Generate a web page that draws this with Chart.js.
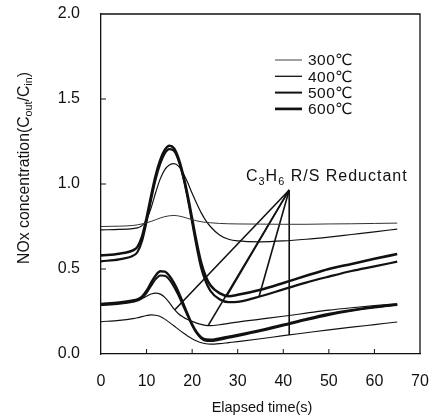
<!DOCTYPE html>
<html><head><meta charset="utf-8">
<title>NOx concentration vs elapsed time</title>
<script src="https://cdn.jsdelivr.net/npm/chart.js"></script>
<style>
    html, body { margin: 0; padding: 0; background: #fff; }
    #wrap { width: 436px; height: 418px; }
</style></head>
<body>
<div id="wrap"><canvas id="grafico" width="436" height="418"></canvas></div>
<script>
// --- DATA ---
const times = [0, 4, 7, 8, 9, 10, 11, 12, 13, 14, 15, 16, 17, 18, 19, 20, 21, 22, 23, 24, 26, 28, 30, 35, 40, 45, 50, 55, 60, 65];

// upper group
const up300 = [0.750, 0.752, 0.756, 0.760, 0.765, 0.772, 0.780, 0.790, 0.800, 0.808, 0.813, 0.815, 0.812, 0.806, 0.798, 0.790, 0.783, 0.778, 0.774, 0.772, 0.768, 0.766, 0.765, 0.764, 0.763, 0.763, 0.765, 0.766, 0.768, 0.770];
const up400 = [0.730, 0.733, 0.738, 0.742, 0.755, 0.790, 0.860, 0.950, 1.030, 1.085, 1.112, 1.120, 1.105, 1.065, 1.010, 0.945, 0.885, 0.830, 0.785, 0.750, 0.700, 0.675, 0.665, 0.660, 0.665, 0.675, 0.688, 0.703, 0.718, 0.735];
const up500 = [0.545, 0.557, 0.578, 0.600, 0.665, 0.780, 0.910, 1.030, 1.120, 1.180, 1.205, 1.195, 1.140, 1.045, 0.920, 0.775, 0.630, 0.505, 0.425, 0.372, 0.322, 0.305, 0.307, 0.340, 0.380, 0.420, 0.455, 0.488, 0.515, 0.543];
const up600 = [0.580, 0.590, 0.610, 0.630, 0.690, 0.800, 0.930, 1.050, 1.140, 1.200, 1.225, 1.210, 1.150, 1.055, 0.935, 0.795, 0.655, 0.535, 0.455, 0.405, 0.358, 0.340, 0.348, 0.378, 0.418, 0.460, 0.500, 0.530, 0.560, 0.588];

// lower group
const lo300 = [0.190, 0.198, 0.208, 0.213, 0.220, 0.226, 0.230, 0.228, 0.220, 0.205, 0.186, 0.166, 0.145, 0.125, 0.106, 0.090, 0.076, 0.066, 0.060, 0.058, 0.061, 0.067, 0.073, 0.090, 0.108, 0.125, 0.142, 0.158, 0.173, 0.188];
const lo400 = [0.290, 0.298, 0.310, 0.316, 0.326, 0.340, 0.353, 0.358, 0.352, 0.333, 0.302, 0.265, 0.237, 0.218, 0.203, 0.192, 0.182, 0.174, 0.168, 0.167, 0.172, 0.180, 0.188, 0.205, 0.222, 0.240, 0.258, 0.272, 0.284, 0.295];
const lo500 = [0.288, 0.296, 0.307, 0.314, 0.330, 0.360, 0.402, 0.440, 0.462, 0.460, 0.437, 0.396, 0.345, 0.285, 0.225, 0.168, 0.122, 0.092, 0.078, 0.076, 0.084, 0.095, 0.106, 0.135, 0.167, 0.200, 0.230, 0.254, 0.273, 0.288];
const lo600 = [0.295, 0.303, 0.315, 0.322, 0.338, 0.372, 0.420, 0.462, 0.487, 0.485, 0.460, 0.418, 0.365, 0.300, 0.235, 0.175, 0.128, 0.098, 0.085, 0.084, 0.092, 0.102, 0.112, 0.140, 0.172, 0.205, 0.235, 0.258, 0.277, 0.292];

const legendLabels = ['300℃', '400℃', '500℃', '600℃'];
const legendWidths = [1.0, 1.3, 2.0, 2.7];

// annotation "C3H6 R/S Reductant": lines from one apex to the curves
const apex = { x: 41.3, y: 0.965 };
const pointerX = [16.2, 23.5, 27.6, 34.7, 41.3];
const pointerY = [0.26, 0.167, 0.34, 0.34, 0.112];

// axes
const xMin = 0, xMax = 70, xStep = 10;
const yMin = 0, yMax = 2, yStep = 0.5;

const FONT = "'Liberation Sans', Arial, 'DejaVu Sans', sans-serif";
const INK = '#111';

function toPts(vals) { return times.map((t, i) => ({ x: t, y: vals[i] })); }

function curve(vals, w, color) {
    return { data: toPts(vals), borderColor: color || INK, borderWidth: w, pointRadius: 0,
             fill: false, cubicInterpolationMode: 'monotone' };
}

const datasets = [
    curve(up300, 1.0, '#333'), curve(up400, 1.2), curve(up500, 2.2), curve(up600, 2.6),
    curve(lo300, 1.1), curve(lo400, 1.2), curve(lo500, 2.0), curve(lo600, 2.4)
];
pointerX.forEach((px, i) => {
    datasets.push({ data: [{ x: apex.x, y: apex.y }, { x: px, y: pointerY[i] }],
                    borderColor: INK, borderWidth: 1.6, pointRadius: 0, tension: 0 });
});

// --- EXTRA DRAWING: box, inner ticks, legend, texts ---
function drawSubText(ctx, parts, x, y, size) {
    let cx = x;
    parts.forEach(([txt, sub]) => {
        ctx.font = (sub ? size * 0.68 : size) + 'px ' + FONT;
        ctx.fillText(txt, cx, y + (sub ? size * 0.22 : 0));
        cx += ctx.measureText(txt).width;
    });
    return cx - x;
}
function measureSub(ctx, parts, size) {
    let w = 0;
    parts.forEach(([txt, sub]) => {
        ctx.font = (sub ? size * 0.68 : size) + 'px ' + FONT;
        w += ctx.measureText(txt).width;
    });
    return w;
}

const decor = {
    id: 'decor',
    afterDraw(chart) {
        const ctx = chart.ctx, a = chart.chartArea;
        const sx = chart.scales.x, sy = chart.scales.y;
        ctx.save();
        ctx.strokeStyle = INK; ctx.fillStyle = INK;
        ctx.lineWidth = 1.3;
        ctx.beginPath();
        ctx.moveTo(a.left, a.top); ctx.lineTo(a.right, a.top); ctx.lineTo(a.right, a.bottom);
        ctx.stroke();

        ctx.lineWidth = 1;
        ctx.beginPath();
        for (let v = xMin + xStep; v < xMax; v += xStep) {
            const px = sx.getPixelForValue(v);
            ctx.moveTo(px, a.bottom); ctx.lineTo(px, a.bottom - 5);
        }
        for (let v = yMin + yStep; v < yMax; v += yStep) {
            const py = sy.getPixelForValue(v);
            ctx.moveTo(a.left, py); ctx.lineTo(a.left + 5, py);
        }
        ctx.stroke();

        // legend
        ctx.textBaseline = 'middle';
        ctx.textAlign = 'left';
        ctx.font = '15.5px ' + FONT;
        ctx.letterSpacing = '0.5px';
        legendLabels.forEach((lab, i) => {
            const y = 60 + i * 16.3;
            ctx.lineWidth = legendWidths[i];
            ctx.strokeStyle = i === 0 ? '#444' : INK;
            ctx.beginPath(); ctx.moveTo(275, y); ctx.lineTo(302, y); ctx.stroke();
            ctx.fillText(lab, 308, y + 1);
        });

        // annotation text
        ctx.textBaseline = 'alphabetic';
        ctx.letterSpacing = '1px';
        drawSubText(ctx, [['C', 0], ['3', 1], ['H', 0], ['6', 1], [' R/S Reductant', 0]], 246, 181, 16);
        ctx.letterSpacing = '0px';

        // x title
        ctx.font = '14.5px ' + FONT;
        ctx.textAlign = 'center';
        ctx.fillText('Elapsed time(s)', 262, 412);

        // y title
        const yParts = [['NOx concentration(C', 0], ['out', 1], ['/C', 0], ['in', 1], [')', 0]];
        ctx.textAlign = 'left';
        ctx.translate(29, 168);
        ctx.rotate(-Math.PI / 2);
        const w = measureSub(ctx, yParts, 15.8);
        drawSubText(ctx, yParts, -w / 2, 0, 15.8);
        ctx.restore();
    }
};

new Chart(document.getElementById('grafico').getContext('2d'), {
    type: 'line',
    data: { datasets },
    options: {
        responsive: false,
        animation: false,
        devicePixelRatio: 1,
        layout: { padding: { top: 14, right: 16, left: 0, bottom: 0 } },
        plugins: { legend: { display: false }, tooltip: { enabled: false } },
        scales: {
            x: {
                type: 'linear', min: xMin, max: xMax,
                afterFit: s => { s.height = 64; s.paddingLeft = 0; s.paddingRight = 0; },
                grid: { display: false, drawTicks: false },
                border: { display: true, color: INK, width: 1.3 },
                ticks: { stepSize: xStep, padding: 18, color: INK, font: { size: 16, family: FONT },
                         maxRotation: 0, callback: v => v }
            },
            y: {
                type: 'linear', min: yMin, max: yMax,
                afterFit: s => { s.width = 101; s.paddingTop = 0; s.paddingBottom = 0; },
                grid: { display: false, drawTicks: false },
                border: { display: true, color: INK, width: 1.3 },
                ticks: { stepSize: yStep, padding: 21, color: INK, font: { size: 16, family: FONT },
                         callback: v => v.toFixed(1) }
            }
        }
    },
    plugins: [decor]
});
</script></body></html>
